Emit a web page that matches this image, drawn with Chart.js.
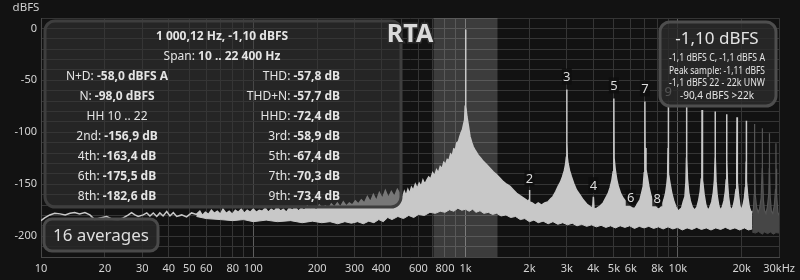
<!DOCTYPE html>
<html>
<head>
<meta charset="utf-8">
<script src="https://cdn.jsdelivr.net/npm/chart.js@4.4.1/dist/chart.umd.min.js"></script>
<style>
  html, body { margin: 0; padding: 0; background: #121212; }
  #wrap { width: 800px; height: 280px; }
</style>
</head>
<body>
<div id="wrap"><canvas id="rta" width="800" height="280"></canvas></div>
<script>
// spectrum, top edge of the trace [Hz, dBFS] (up to 22.4 kHz)
const upperTrace = [
  [10,-185],[10.4,-182.4],[11,-179.5],[11.6,-177.9],[12.3,-178.5],[13,-179.5],[13.7,-177.9],[14.4,-177.3],
  [15.2,-178.5],[16.1,-177.3],[17,-179.5],[17.9,-184],[19,-182.4],[20.4,-181],[21.9,-184],[23.1,-184.3],
  [24.4,-182.4],[25.8,-179.5],[26.7,-177.3],[27.7,-179.5],[28.7,-181],[30.3,-179.5],[31.5,-177.6],[32.6,-180.5],
  [33.8,-177.6],[35.1,-181],[36.3,-177.6],[37.6,-180.5],[39.1,-176.3],[40.5,-180.5],[42,-177.3],[43.6,-181],
  [46,-179.5],[48.5,-181.4],[51.2,-177.6],
  [54,-179],[56,-176],[57.5,-180],[59.5,-177],[61.5,-179],[63.5,-175],[65.5,-178],[67.7,-176],[70,-179],[72,-174],
  [74.6,-178],[77,-176],[79.6,-179],[82.3,-175],[85,-177],[87.8,-174],[90.7,-178],[93.7,-175],[96.8,-177],[100,-174],
  [103.3,-177],[106.7,-175],[110.3,-176],[113.9,-173],[117.7,-177],[121.6,-174],[125.6,-176],[129.8,-172],[134.1,-176],
  [138.5,-174],[143.1,-177],[147.8,-173],[152.7,-175],[157.8,-172],[163,-176],[168.4,-173],[174,-175],[179.7,-171],
  [185.7,-174],[191.8,-172],[198.2,-175],[204.7,-170],[211.5,-173],[218.5,-171],[225.7,-174],[233.2,-169],[240.9,-172],
  [248.9,-168],[257.1,-172],[265.6,-167],[274.4,-171],[283.5,-168],[292.9,-170],[302.6,-166],[312.6,-169],[322.9,-165],
  [333.6,-168],[344.6,-162],[356,-167],[367.8,-160],[380,-166],[392.5,-158],[405.5,-164],[418.9,-156],[432.8,-163],
  [447.1,-157],[461.9,-162],[477.2,-155],
  [493,-160],[505,-163],[515,-157],[525,-161],[535,-155],[545,-159],[556,-153],[567,-156],[580,-150],[592,-154],
  [605,-149],[618,-152],[630,-146],[643,-150],[657,-146],[670,-143],[685,-145],[700,-139],[715,-142],[730,-136],
  [745,-139],[760,-133],[775,-135],[790,-129],[805,-131],[820,-126],[835,-127],[850,-121],[865,-123],[880,-116],
  [895,-117],[910,-110],[925,-109],[940,-104],[955,-100],[968,-97],[980,-92],[990,-88],[996,-75],[1000,-1.1],
  [1004,-75],[1015,-85],[1030,-93],[1049,-104],[1070,-110],[1087,-114],[1115,-118],[1147,-122],[1180,-125],
  [1212,-128],[1255,-131],[1303,-134.6],[1350,-138],[1401,-141],[1450,-144],[1505,-147.5],[1560,-150],[1619,-152],
  [1680,-155.5],[1740,-158.7],[1805,-161],[1870,-163],[1930,-165],[1974,-166.7],[1992,-165],[2000,-155.5],[2008,-167],
  [2060,-168],[2130,-170],[2200,-168],[2280,-170],[2360,-168],[2440,-167],[2520,-164],[2580,-162],[2660,-157],
  [2730,-152],[2800,-148],[2860,-143],[2920,-137],[2960,-131],[2985,-124],[2995,-110],[3000,-58.9],[3005,-110],
  [3015,-124],[3040,-130],[3090,-137],[3150,-142.6],[3230,-149],[3330,-155.5],[3450,-160],[3580,-165],[3720,-169],
  [3860,-171.5],[3970,-173],[4000,-162],[4030,-174],[4160,-173],[4300,-171],[4450,-168],[4580,-163],[4700,-158.8],
  [4800,-153],[4894,-146],[4960,-138],[4990,-125],[5000,-67.4],[5010,-125],[5072,-136],[5150,-145],[5240,-152],
  [5380,-159],[5530,-163.5],[5750,-168],[5950,-171.5],[6120,-173],[6281,-173],[6450,-169],[6630,-165],[6760,-158],
  [6871,-152],[6950,-139],[6990,-115],[7000,-70.3],[7010,-115],[7080,-136],[7177,-142.6],[7300,-152],[7447,-160],
  [7650,-167],[7943,-173],[8160,-174],[8386,-171.5],[8600,-165],[8760,-158.7],[8880,-150],[8953,-142.6],[8990,-115],
  [9000,-73.4],[9010,-115],[9080,-140],[9180,-149],[9350,-158],[9585,-166.7],[9800,-172],[10046,-176],[10250,-174],
  [10420,-173],[10600,-167],[10800,-162],[10920,-148],[10985,-125],[11000,-74.7],[11015,-125],[11100,-145],
  [11250,-158],[11450,-166],[11700,-172],[12000,-175],[12300,-172],[12550,-165],[12750,-157],[12900,-145],
  [12985,-125],[13000,-78.6],[13015,-125],[13120,-146],[13300,-160],[13550,-170],[13850,-175],[14100,-173],
  [14450,-167],[14700,-158],[14880,-146],[14985,-125],[15000,-80],[15015,-125],[15130,-147],[15320,-161],
  [15600,-171],[15900,-175],[16200,-172],[16500,-166],[16750,-157],[16900,-146],[16985,-128],[17000,-82.7],
  [17015,-128],[17130,-148],[17330,-162],[17600,-172],[17950,-175],[18250,-171],[18550,-164],[18800,-155],
  [18920,-145],[18985,-128],[19000,-85.6],[19015,-128],[19120,-148],[19300,-160],[19600,-171],[19950,-175],
  [20300,-170],[20600,-163],[20820,-153],[20930,-143],[20985,-128],[21000,-88.8],[21015,-128],[21120,-147],
  [21350,-162],[21700,-172],[22050,-176],[22400,-177]
];

// bottom edge of the trace [Hz, dBFS]
const lowerTrace = [
  [54,-181],[60,-183],[70,-184],[80,-185],[90,-184],[100,-186],[115,-184.5],[130,-186],[150,-185],[170,-187],
  [190,-185.5],[210,-187],[230,-186],[250,-188],[270,-186],[290,-187.5],[310,-186],[330,-188],[350,-185.5],
  [370,-187],[390,-184],[410,-186],[430,-182],[450,-184],[480,-181],[510,-183],[540,-180],[570,-182],[600,-179],
  [640,-180],[680,-177],[720,-178],[760,-176],[800,-177],[840,-174.5],[880,-176],[920,-173],[960,-175],[1000,-174],
  [1040,-176],[1080,-174],[1120,-177],[1170,-175.5],[1220,-178],[1280,-177],[1340,-179],[1400,-178],[1470,-180.5],
  [1550,-179.5],[1630,-182],[1720,-181],[1810,-184],[1900,-183],[2000,-186],[2100,-184.5],[2200,-187],[2320,-185.5],
  [2450,-188],[2580,-186],[2720,-188.5],[2870,-187],[3020,-189],[3180,-187.5],[3350,-190],[3530,-188.5],[3720,-190.5],
  [3920,-189],[4130,-191],[4350,-189.5],[4580,-191.5],[4820,-190],[5080,-192],[5350,-190],[5630,-191.5],[5930,-190],
  [6250,-192.5],[6580,-190.5],[6930,-192],[7300,-190.5],[7690,-192.5],[8100,-191],[8530,-193],[8990,-191],
  [9470,-193],[9970,-191.5],[10500,-194],[11060,-192],[11650,-193.5],[12270,-191.5],[12920,-193.5],[13610,-192],
  [14330,-194],[15090,-192],[15900,-193.5],[16740,-191.5],[17630,-193.5],[18570,-192],[19560,-194],[20600,-192],
  [21500,-194],[22400,-193]
];

// above the 22.4 kHz span, drawn dimmed
const upperTraceHi = [
  [22400,-178],[22700,-174],[22900,-160],[22985,-130],[23000,-92],[23015,-130],[23150,-160],[23500,-172],
  [23900,-177],[24300,-173],[24700,-163],[24950,-135],[25000,-96],[25050,-135],[25300,-165],[25600,-175],
  [26000,-178],[26400,-172],[26800,-160],[26960,-135],[27000,-101],[27040,-135],[27250,-163],[27600,-176],
  [28000,-178],[28500,-170],[28850,-155],[28970,-135],[29000,-110.6],[29030,-135],[29200,-160],[29600,-177],
  [30000,-180]
];
const lowerTraceHi = [
  [22400,-196],[23200,-197],[24000,-195.5],[25000,-198],[25600,-196],[26500,-197.5],[27300,-196],[28200,-198],
  [29000,-196.5],[30000,-197]
];

const harmonicOrder = [2, 3, 4, 5, 6, 7, 8, 9];
const harmonicLevel = [-156.9, -58.9, -163.4, -67.4, -175.5, -70.3, -182.6, -73.4];
const fundamentalHz = 1000;
const bandHz = [707, 1414];

const xGridHz = [10,20,30,40,50,60,70,80,90,100,200,300,400,500,600,700,800,900,
  1000,2000,3000,4000,5000,6000,7000,8000,9000,10000,20000,30000];
const xLabelHz = [10,20,30,40,50,60,80,100,200,300,400,600,800,1000,2000,3000,4000,5000,6000,8000,10000,20000,30000];
const decadeHz = [100, 1000, 10000];
const yLabelDb = [0, -50, -100, -150, -200];

const infoTitle = '1 000,12 Hz, -1,10 dBFS';
const infoSpan = ['Span:', '10 .. 22 400 Hz'];
const infoLeft = [['N+D:', '-58,0 dBFS A'], ['N:', '-98,0 dBFS'], ['HH 10 .. 22', ''], ['2nd:', '-156,9 dB'],
  ['4th:', '-163,4 dB'], ['6th:', '-175,5 dB'], ['8th:', '-182,6 dB']];
const infoRight = [['THD:', '-57,8 dB'], ['THD+N:', '-57,7 dB'], ['HHD:', '-72,4 dB'], ['3rd:', '-58,9 dB'],
  ['5th:', '-67,4 dB'], ['7th:', '-70,3 dB'], ['9th:', '-73,4 dB']];
const levelBig = '-1,10 dBFS';
const levelLines = ['-1,1 dBFS C, -1,1 dBFS A', 'Peak sample: -1,11 dBFS', '-1,1 dBFS 22 - 22k UNW', '-90,4 dBFS >22k'];
const averagesText = '16 averages';

const FONT = "'Noto Sans', sans-serif";
const TRACE = '#c8c8c8';
const TRACE_HI = '#464646';

const toXY = arr => arr.map(p => ({ x: p[0], y: p[1] }));

function fmtHz(v) {
    if (v >= 1000) {
        return (v / 1000) + 'k' + (v === xLabelHz[xLabelHz.length - 1] ? 'Hz' : '');
    }
    return String(v);
}

function boxPath(ctx, x, y, w, h, r) {
    ctx.beginPath();
    ctx.moveTo(x + r, y);
    ctx.lineTo(x + w - r, y);
    ctx.arcTo(x + w, y, x + w, y + r, r);
    ctx.lineTo(x + w, y + h - r);
    ctx.arcTo(x + w, y + h, x + w - r, y + h, r);
    ctx.lineTo(x + r, y + h);
    ctx.arcTo(x, y + h, x, y + h - r, r);
    ctx.lineTo(x, y + r);
    ctx.arcTo(x, y, x + r, y, r);
    ctx.closePath();
}

// label regular, value bold
function drawPair(ctx, label, value, x, y, align) {
    ctx.font = '12px ' + FONT;
    const wl = ctx.measureText(value ? label + ' ' : label).width;
    ctx.font = 'bold 12px ' + FONT;
    const wv = value ? ctx.measureText(value).width : 0;
    const total = wl + wv;
    const x0 = align === 'center' ? x - total / 2 : x - total;
    ctx.textAlign = 'left';
    ctx.font = '12px ' + FONT;
    ctx.fillText(label, x0, y);
    if (value) {
        ctx.font = 'bold 12px ' + FONT;
        ctx.fillText(value, x0 + wl, y);
    }
}

const rtaOverlay = {
    id: 'rtaOverlay',
    beforeDraw(chart) {
        const { ctx, width, height } = chart;
        ctx.save();
        ctx.fillStyle = '#121212';
        ctx.fillRect(0, 0, width, height);
        ctx.restore();
    },
    beforeDatasetsDraw(chart) {
        const { ctx, chartArea: a, scales: { x } } = chart;
        const x0 = x.getPixelForValue(bandHz[0]);
        const x1 = x.getPixelForValue(bandHz[1]);
        ctx.save();
        ctx.fillStyle = 'rgba(255,255,255,0.18)';
        ctx.fillRect(x0, a.top, x1 - x0, a.bottom - a.top);
        ctx.restore();
    },
    afterDatasetsDraw(chart) {
        const { ctx, scales: { x, y } } = chart;
        ctx.save();
        ctx.font = '13px ' + FONT;
        ctx.textAlign = 'center';
        ctx.textBaseline = 'middle';
        harmonicOrder.forEach((n, i) => {
            const px = x.getPixelForValue(n * fundamentalHz);
            const py = y.getPixelForValue(Math.max(harmonicLevel[i], -176)) - 13;
            ctx.fillStyle = 'rgba(14,14,14,0.85)';
            ctx.fillRect(px - 5, py - 8, 10, 16);
            ctx.fillStyle = '#dcdcdc';
            ctx.fillText(String(n), px, py + 1);
        });
        ctx.restore();
    },
    afterDraw(chart) {
        const { ctx } = chart;
        ctx.save();
        ctx.textBaseline = 'middle';

        // axis unit
        ctx.fillStyle = '#d0d0d0';
        ctx.font = '11.5px ' + FONT;
        ctx.textAlign = 'center';
        ctx.fillText('dBFS', 26, 8);

        // measurement box
        boxPath(ctx, 45, 21, 356, 186, 10);
        ctx.fillStyle = 'rgba(52,52,52,0.55)';
        ctx.fill();
        ctx.lineWidth = 3;
        ctx.strokeStyle = '#3e3e3e';
        ctx.stroke();

        ctx.fillStyle = '#e4e4e4';
        ctx.font = 'bold 12px ' + FONT;
        ctx.textAlign = 'center';
        ctx.fillText(infoTitle, 222, 37);
        drawPair(ctx, infoSpan[0], infoSpan[1], 222, 57, 'center');
        infoLeft.forEach((r, i) => drawPair(ctx, r[0], r[1], 117, 77 + i * 20, 'center'));
        infoRight.forEach((r, i) => drawPair(ctx, r[0], r[1], 340, 77 + i * 20, 'right'));

        // title
        ctx.font = 'bold 25px ' + FONT;
        ctx.textAlign = 'center';
        ctx.lineWidth = 3;
        ctx.strokeStyle = '#2c2c2c';
        ctx.strokeText('RTA', 410, 35);
        ctx.fillStyle = '#dadada';
        ctx.fillText('RTA', 410, 35);

        // level box
        boxPath(ctx, 660, 22, 116, 84, 10);
        ctx.fillStyle = 'rgba(44,44,44,0.78)';
        ctx.fill();
        ctx.lineWidth = 3;
        ctx.strokeStyle = '#4e4e4e';
        ctx.stroke();
        ctx.fillStyle = '#e4e4e4';
        ctx.font = '17px ' + FONT;
        ctx.fillText(levelBig, 717, 39, 86);
        ctx.font = '10px ' + FONT;
        levelLines.forEach((t, i) => ctx.fillText(t, 717, 58 + i * 12.7, 96));

        // averages box
        boxPath(ctx, 44, 219, 114, 32, 8);
        ctx.fillStyle = 'rgba(40,40,40,0.88)';
        ctx.fill();
        ctx.lineWidth = 3;
        ctx.strokeStyle = '#4a4a4a';
        ctx.stroke();
        ctx.fillStyle = '#dedede';
        ctx.font = '17px ' + FONT;
        ctx.fillText(averagesText, 101, 236);

        ctx.restore();
    }
};

const ctx = document.getElementById('rta').getContext('2d');
new Chart(ctx, {
    type: 'line',
    data: {
        datasets: [
            { data: toXY(upperTrace), borderColor: TRACE, borderWidth: 1.5, pointRadius: 0, fill: false },
            { data: toXY(lowerTrace), borderColor: TRACE, borderWidth: 1, pointRadius: 0, fill: '-1', backgroundColor: TRACE },
            { data: toXY(upperTraceHi), borderColor: '#555', borderWidth: 1.2, pointRadius: 0, fill: false },
            { data: toXY(lowerTraceHi), borderColor: TRACE_HI, borderWidth: 1, pointRadius: 0, fill: '-1', backgroundColor: TRACE_HI }
        ]
    },
    options: {
        responsive: false,
        animation: false,
        events: [],
        layout: { padding: { top: 18, right: 20, left: 0, bottom: 0 } },
        plugins: { legend: { display: false }, tooltip: { enabled: false } },
        scales: {
            x: {
                type: 'logarithmic',
                min: 10,
                max: 30000,
                afterBuildTicks: axis => { axis.ticks = xGridHz.map(v => ({ value: v })); },
                afterFit: s => { s.height = 23; },
                grid: {
                    color: c => decadeHz.includes(c.tick && c.tick.value) ? '#5e5e5e' : '#353535',
                    drawTicks: false
                },
                border: { color: '#474747' },
                ticks: {
                    autoSkip: false, maxRotation: 0, minRotation: 0, padding: 5,
                    color: '#d4d4d4', font: { family: FONT, size: 11 },
                    callback: v => xLabelHz.includes(v) ? fmtHz(v) : ''
                }
            },
            y: {
                min: -220,
                max: 10,
                afterFit: s => { s.width = 41; },
                grid: { color: '#353535', drawTicks: false },
                border: { color: '#474747' },
                ticks: {
                    stepSize: 10, autoSkip: false, padding: 4,
                    color: '#d4d4d4', font: { family: FONT, size: 11 },
                    callback: v => yLabelDb.includes(v) ? String(v) : ''
                }
            }
        }
    },
    plugins: [rtaOverlay]
});
</script>
</body>
</html>
